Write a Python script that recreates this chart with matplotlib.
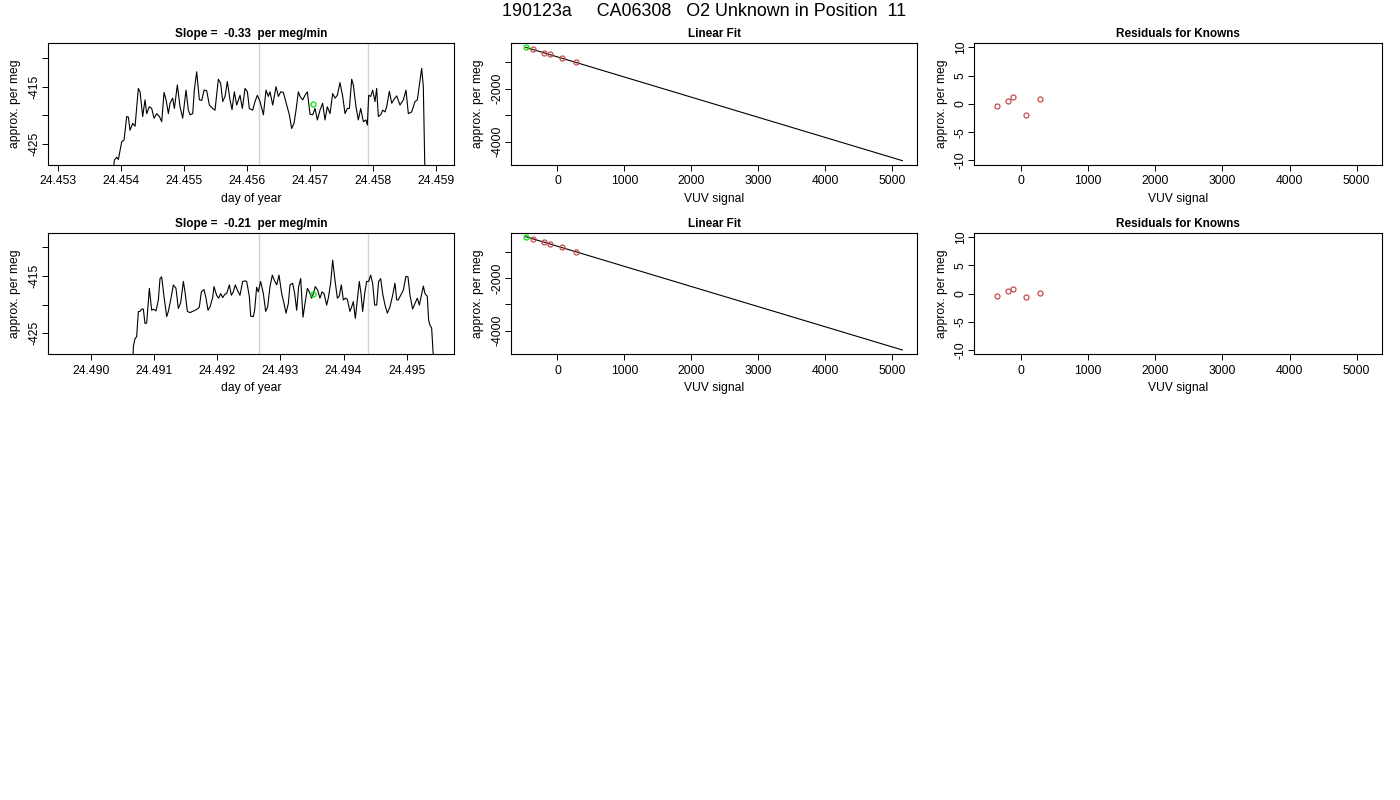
import matplotlib
matplotlib.use("Agg")
import matplotlib.pyplot as plt

plt.rcParams['font.family'] = ['Liberation Sans', 'DejaVu Sans']
plt.rcParams['axes.unicode_minus'] = False

# ---------------- data ----------------
suptitle = "190123a     CA06308   O2 Unknown in Position  11"
slope_titles = ["Slope =  -0.33  per meg/min", "Slope =  -0.21  per meg/min"]

times1 = [24.453870, 24.453899, 24.453937, 24.453963, 24.454016, 24.454053, 24.454095, 24.454122, 24.454148, 24.454190,
          24.454228, 24.454280, 24.454307, 24.454349, 24.454386, 24.454413, 24.454455, 24.454492, 24.454529, 24.454571,
          24.454614, 24.454651, 24.454688, 24.454720, 24.454757, 24.454783, 24.454825, 24.454852, 24.454899, 24.454942,
          24.454984, 24.455037, 24.455074, 24.455101, 24.455143, 24.455169, 24.455206, 24.455249, 24.455286, 24.455323,
          24.455365, 24.455407, 24.455460, 24.455497, 24.455550, 24.455587, 24.455619, 24.455656, 24.455693, 24.455735,
          24.455767, 24.455804, 24.455841, 24.455894, 24.455931, 24.455974, 24.456011, 24.456042, 24.456095, 24.456132,
          24.456169, 24.456212, 24.456265, 24.456307, 24.456344, 24.456370, 24.456413, 24.456466, 24.456503, 24.456540,
          24.456582, 24.456635, 24.456677, 24.456714, 24.456751, 24.456783, 24.456820, 24.456847, 24.456889, 24.456926,
          24.456963, 24.457005, 24.457048, 24.457085, 24.457122, 24.457164, 24.457206, 24.457243, 24.457280, 24.457323,
          24.457365, 24.457402, 24.457439, 24.457481, 24.457524, 24.457561, 24.457598, 24.457630, 24.457667, 24.457693,
          24.457735, 24.457772, 24.457810, 24.457852, 24.457894, 24.457915, 24.457937, 24.457968, 24.458000, 24.458037,
          24.458063, 24.458090, 24.458127, 24.458159, 24.458196, 24.458222, 24.458265, 24.458302, 24.458339, 24.458381,
          24.458434, 24.458487, 24.458529, 24.458566, 24.458619, 24.458672, 24.458709, 24.458741, 24.458778, 24.458804,
          24.458831]
values1 = [-431.0, -427.8, -427.3, -427.7, -424.6, -424.3, -420.2, -420.3, -422.6, -421.4,
           -421.9, -415.3, -415.9, -420.2, -417.3, -419.7, -418.5, -418.8, -420.5, -419.7,
           -420.2, -421.1, -416.0, -417.3, -419.7, -417.9, -417.0, -418.8, -414.7, -418.5,
           -420.5, -415.6, -419.1, -419.9, -419.7, -415.6, -412.4, -417.3, -417.4, -415.6,
           -415.7, -418.2, -418.8, -419.1, -413.7, -414.4, -417.6, -416.7, -414.1, -417.3,
           -419.0, -415.9, -418.2, -416.5, -418.8, -415.3, -415.9, -418.8, -419.1, -417.6,
           -416.5, -417.6, -419.9, -415.6, -416.7, -415.9, -418.2, -415.0, -416.7, -415.9,
           -416.0, -418.2, -419.9, -422.3, -421.4, -419.1, -415.9, -416.7, -417.3, -416.5,
           -415.9, -419.8, -419.9, -418.8, -420.8, -419.1, -417.9, -420.8, -418.5, -419.7,
           -416.2, -417.0, -416.5, -414.3, -416.7, -419.7, -418.8, -418.8, -413.7, -414.7,
           -418.5, -420.8, -418.8, -421.1, -420.8, -421.7, -416.5, -416.7, -415.6, -417.6,
           -415.3, -420.2, -419.9, -419.1, -419.4, -418.5, -415.8, -417.9, -417.2, -416.6,
           -418.2, -417.3, -415.6, -419.7, -419.4, -417.6, -417.3, -414.7, -411.8, -415.0,
           -431.0]

times2 = [24.490660, 24.490671, 24.490697, 24.490723, 24.490750, 24.490776, 24.490803, 24.490829, 24.490855, 24.490882,
          24.490924, 24.490961, 24.490987, 24.491030, 24.491067, 24.491093, 24.491119, 24.491156, 24.491199, 24.491225,
          24.491262, 24.491304, 24.491346, 24.491383, 24.491420, 24.491463, 24.491489, 24.491526, 24.491568, 24.491610,
          24.491647, 24.491684, 24.491716, 24.491748, 24.491790, 24.491822, 24.491853, 24.491885, 24.491927, 24.491948,
          24.491990, 24.492022, 24.492054, 24.492086, 24.492122, 24.492149, 24.492191, 24.492223, 24.492254, 24.492286,
          24.492318, 24.492360, 24.492402, 24.492439, 24.492466, 24.492508, 24.492529, 24.492571, 24.492592, 24.492624,
          24.492650, 24.492687, 24.492730, 24.492767, 24.492798, 24.492835, 24.492872, 24.492904, 24.492941, 24.492978,
          24.493020, 24.493057, 24.493089, 24.493126, 24.493152, 24.493194, 24.493226, 24.493258, 24.493289, 24.493321,
          24.493358, 24.493390, 24.493427, 24.493458, 24.493495, 24.493522, 24.493553, 24.493590, 24.493627, 24.493659,
          24.493691, 24.493733, 24.493759, 24.493796, 24.493828, 24.493865, 24.493902, 24.493933, 24.493965, 24.493997,
          24.494029, 24.494060, 24.494102, 24.494129, 24.494155, 24.494187, 24.494219, 24.494250, 24.494277, 24.494303,
          24.494335, 24.494366, 24.494398, 24.494430, 24.494461, 24.494493, 24.494525, 24.494556, 24.494588, 24.494620,
          24.494657, 24.494694, 24.494736, 24.494778, 24.494815, 24.494842, 24.494868, 24.494905, 24.494947, 24.494989,
          24.495021, 24.495053, 24.495095, 24.495132, 24.495169, 24.495201, 24.495238, 24.495264, 24.495290, 24.495327,
          24.495348, 24.495370, 24.495396, 24.495433]
values2 = [-431.0, -427.3, -425.9, -425.6, -421.2, -421.2, -420.8, -420.8, -423.3, -423.2,
           -417.2, -421.0, -420.8, -421.1, -419.2, -415.5, -415.2, -418.6, -422.1, -421.2,
           -419.2, -416.6, -417.2, -420.7, -419.7, -416.0, -417.8, -421.2, -421.4, -421.2,
           -421.0, -420.8, -420.4, -417.8, -417.4, -418.9, -421.0, -420.4, -418.8, -416.9,
           -418.4, -418.9, -418.1, -418.8, -418.2, -418.1, -416.6, -418.4, -417.8, -416.6,
           -417.5, -418.4, -416.0, -415.9, -416.0, -418.6, -422.0, -422.1, -421.0, -417.0,
           -417.8, -416.0, -418.1, -421.2, -420.4, -416.9, -414.9, -415.8, -416.6, -414.9,
           -418.1, -419.8, -421.5, -419.8, -416.6, -416.3, -418.1, -421.0, -416.9, -415.5,
           -422.2, -419.8, -417.2, -417.8, -418.9, -418.1, -416.9, -417.5, -418.9, -417.8,
           -418.1, -420.1, -418.9, -416.3, -412.3, -415.8, -418.9, -418.5, -416.6, -419.2,
           -418.9, -419.1, -421.2, -420.4, -419.5, -422.4, -419.2, -416.0, -418.1, -421.2,
           -418.1, -416.0, -416.0, -414.9, -416.3, -420.1, -420.1, -416.0, -415.5, -418.1,
           -420.1, -421.5, -420.4, -418.4, -416.3, -419.2, -419.2, -418.4, -417.5, -415.1,
           -415.2, -418.4, -420.8, -419.8, -418.9, -420.1, -418.2, -416.8, -418.1, -418.6,
           -422.7, -423.6, -424.1, -431.0]

series_times = [times1, times2]
series_values = [values1, values2]
window_marks = [[24.45619, 24.45793], [24.492656, 24.494393]]
unknown_time = [24.45706, 24.493522]
unknown_level = [-418.0, -418.1]

known_vuv = [[-363, -204, -114, 75, 284], [-363, -199, -114, 70, 284]]
known_meg = [[-516, -642, -704, -843, -1006], [-484, -611, -675, -815, -981]]
unknown_vuv = [-473, -473]
unknown_meg = [-440, -408]
fit_vuv = [[-473, 5150], [-473, 5150]]
fit_meg = [[-440, -4717], [-408, -4739]]

resid_vuv = [[-362, -199, -114, 65, 288], [-357, -199, -114, 69, 288]]
resid_meg = [[-0.35, 0.53, 1.18, -2.0, 0.82], [-0.47, 0.41, 0.82, -0.70, 0.06]]

ts_xticks = [[24.453, 24.454, 24.455, 24.456, 24.457, 24.458, 24.459],
             [24.490, 24.491, 24.492, 24.493, 24.494, 24.495]]
ts_xlim = [(24.452841, 24.459291), (24.489314, 24.495750)]
ts_ylim = [(-428.66, -407.33), (-428.64, -407.54)]
ts_yticks = [-425, -420, -415, -410]
ts_yticklabels = ['-425', '', '-415', '']
fit_ylim = [(-4881, -264), (-4904, -255)]
fit_yticks = [-4000, -3000, -2000, -1000]
fit_yticklabels = ['-4000', '', '-2000', '']
vuv_ticks = [0, 1000, 2000, 3000, 4000, 5000]
vuv_xlim = (-698, 5373)
resid_ticks = [-10, -5, 0, 5, 10]
resid_ylim = (-10.8, 10.8)

# ---------------- layout ----------------
W, H = 1400, 800
fig = plt.figure(figsize=(14, 8), dpi=100)
fig.patch.set_facecolor('white')

col_px = [(47.7, 454.0), (510.7, 917.3), (974.3, 1381.7)]
row_px = [(42.7, 165.0), (232.7, 354.3)]

RED = '#c84b4b'
GREEN = '#00e600'
FS = 8.7
TFS = 8.5

def make_ax(r, c):
    x0, x1 = col_px[c]
    y0, y1 = row_px[r]
    ax = fig.add_axes([x0 / W, 1 - y1 / H, (x1 - x0) / W, (y1 - y0) / H])
    for s in ax.spines.values():
        s.set_linewidth(0.8)
        s.set_color('black')
    ax.tick_params(direction='out', length=4, width=0.7, labelsize=FS, pad=3.5)
    ax.tick_params(axis='y', pad=1.5)
    return ax

def style_y(ax):
    for lab in ax.get_yticklabels():
        lab.set_rotation(90)
        lab.set_va('center')
        lab.set_ha('right')

fig.text(704 / W, 1 - 12 / H, suptitle, ha='center', va='center', fontsize=12.9)

for r in range(2):
    # time series
    ax = make_ax(r, 0)
    for t in window_marks[r]:
        ax.axvline(t, color='#d3d3d3', lw=1.0, zorder=1)
    ax.plot(series_times[r], series_values[r], color='black', lw=0.8, zorder=2)
    ax.plot([unknown_time[r]], [unknown_level[r]], 'o', ms=3.6, mfc='none', mec=GREEN, mew=0.9, zorder=3)
    ax.set_xlim(*ts_xlim[r])
    ax.set_ylim(*ts_ylim[r])
    ax.set_xticks(ts_xticks[r])
    ax.set_xticklabels(['%.3f' % v for v in ts_xticks[r]])
    ax.set_yticks(ts_yticks)
    ax.set_yticklabels(ts_yticklabels)
    style_y(ax)
    ax.set_xlabel('day of year', fontsize=FS, labelpad=4)
    ax.set_ylabel('approx. per meg', fontsize=FS, labelpad=5)
    ax.set_title(slope_titles[r], fontsize=TFS, fontweight='bold', pad=4.2)

    # linear fit
    ax = make_ax(r, 1)
    ax.plot(fit_vuv[r], fit_meg[r], color='black', lw=0.8, zorder=1)
    ax.plot(known_vuv[r], known_meg[r], 'o', ms=3.6, mfc='none', mec=RED, mew=0.9, zorder=2)
    ax.plot([unknown_vuv[r]], [unknown_meg[r]], 'o', ms=3.6, mfc='none', mec=GREEN, mew=0.9, zorder=3)
    ax.set_xlim(*vuv_xlim)
    ax.set_ylim(*fit_ylim[r])
    ax.set_xticks(vuv_ticks)
    ax.set_xticklabels([str(v) for v in vuv_ticks])
    ax.set_yticks(fit_yticks)
    ax.set_yticklabels(fit_yticklabels)
    style_y(ax)
    ax.set_xlabel('VUV signal', fontsize=FS, labelpad=4)
    ax.set_ylabel('approx. per meg', fontsize=FS, labelpad=5)
    ax.set_title('Linear Fit', fontsize=TFS, fontweight='bold', pad=4.2)

    # residuals
    ax = make_ax(r, 2)
    ax.plot(resid_vuv[r], resid_meg[r], 'o', ms=3.6, mfc='none', mec=RED, mew=0.9)
    ax.set_xlim(*vuv_xlim)
    ax.set_ylim(*resid_ylim)
    ax.set_xticks(vuv_ticks)
    ax.set_xticklabels([str(v) for v in vuv_ticks])
    ax.set_yticks(resid_ticks)
    ax.set_yticklabels([str(v) for v in resid_ticks])
    style_y(ax)
    ax.set_xlabel('VUV signal', fontsize=FS, labelpad=4)
    ax.set_ylabel('approx. per meg', fontsize=FS, labelpad=5)
    ax.set_title('Residuals for Knowns', fontsize=TFS, fontweight='bold', pad=4.2)

fig.savefig('out.png', dpi=100, facecolor='white')
